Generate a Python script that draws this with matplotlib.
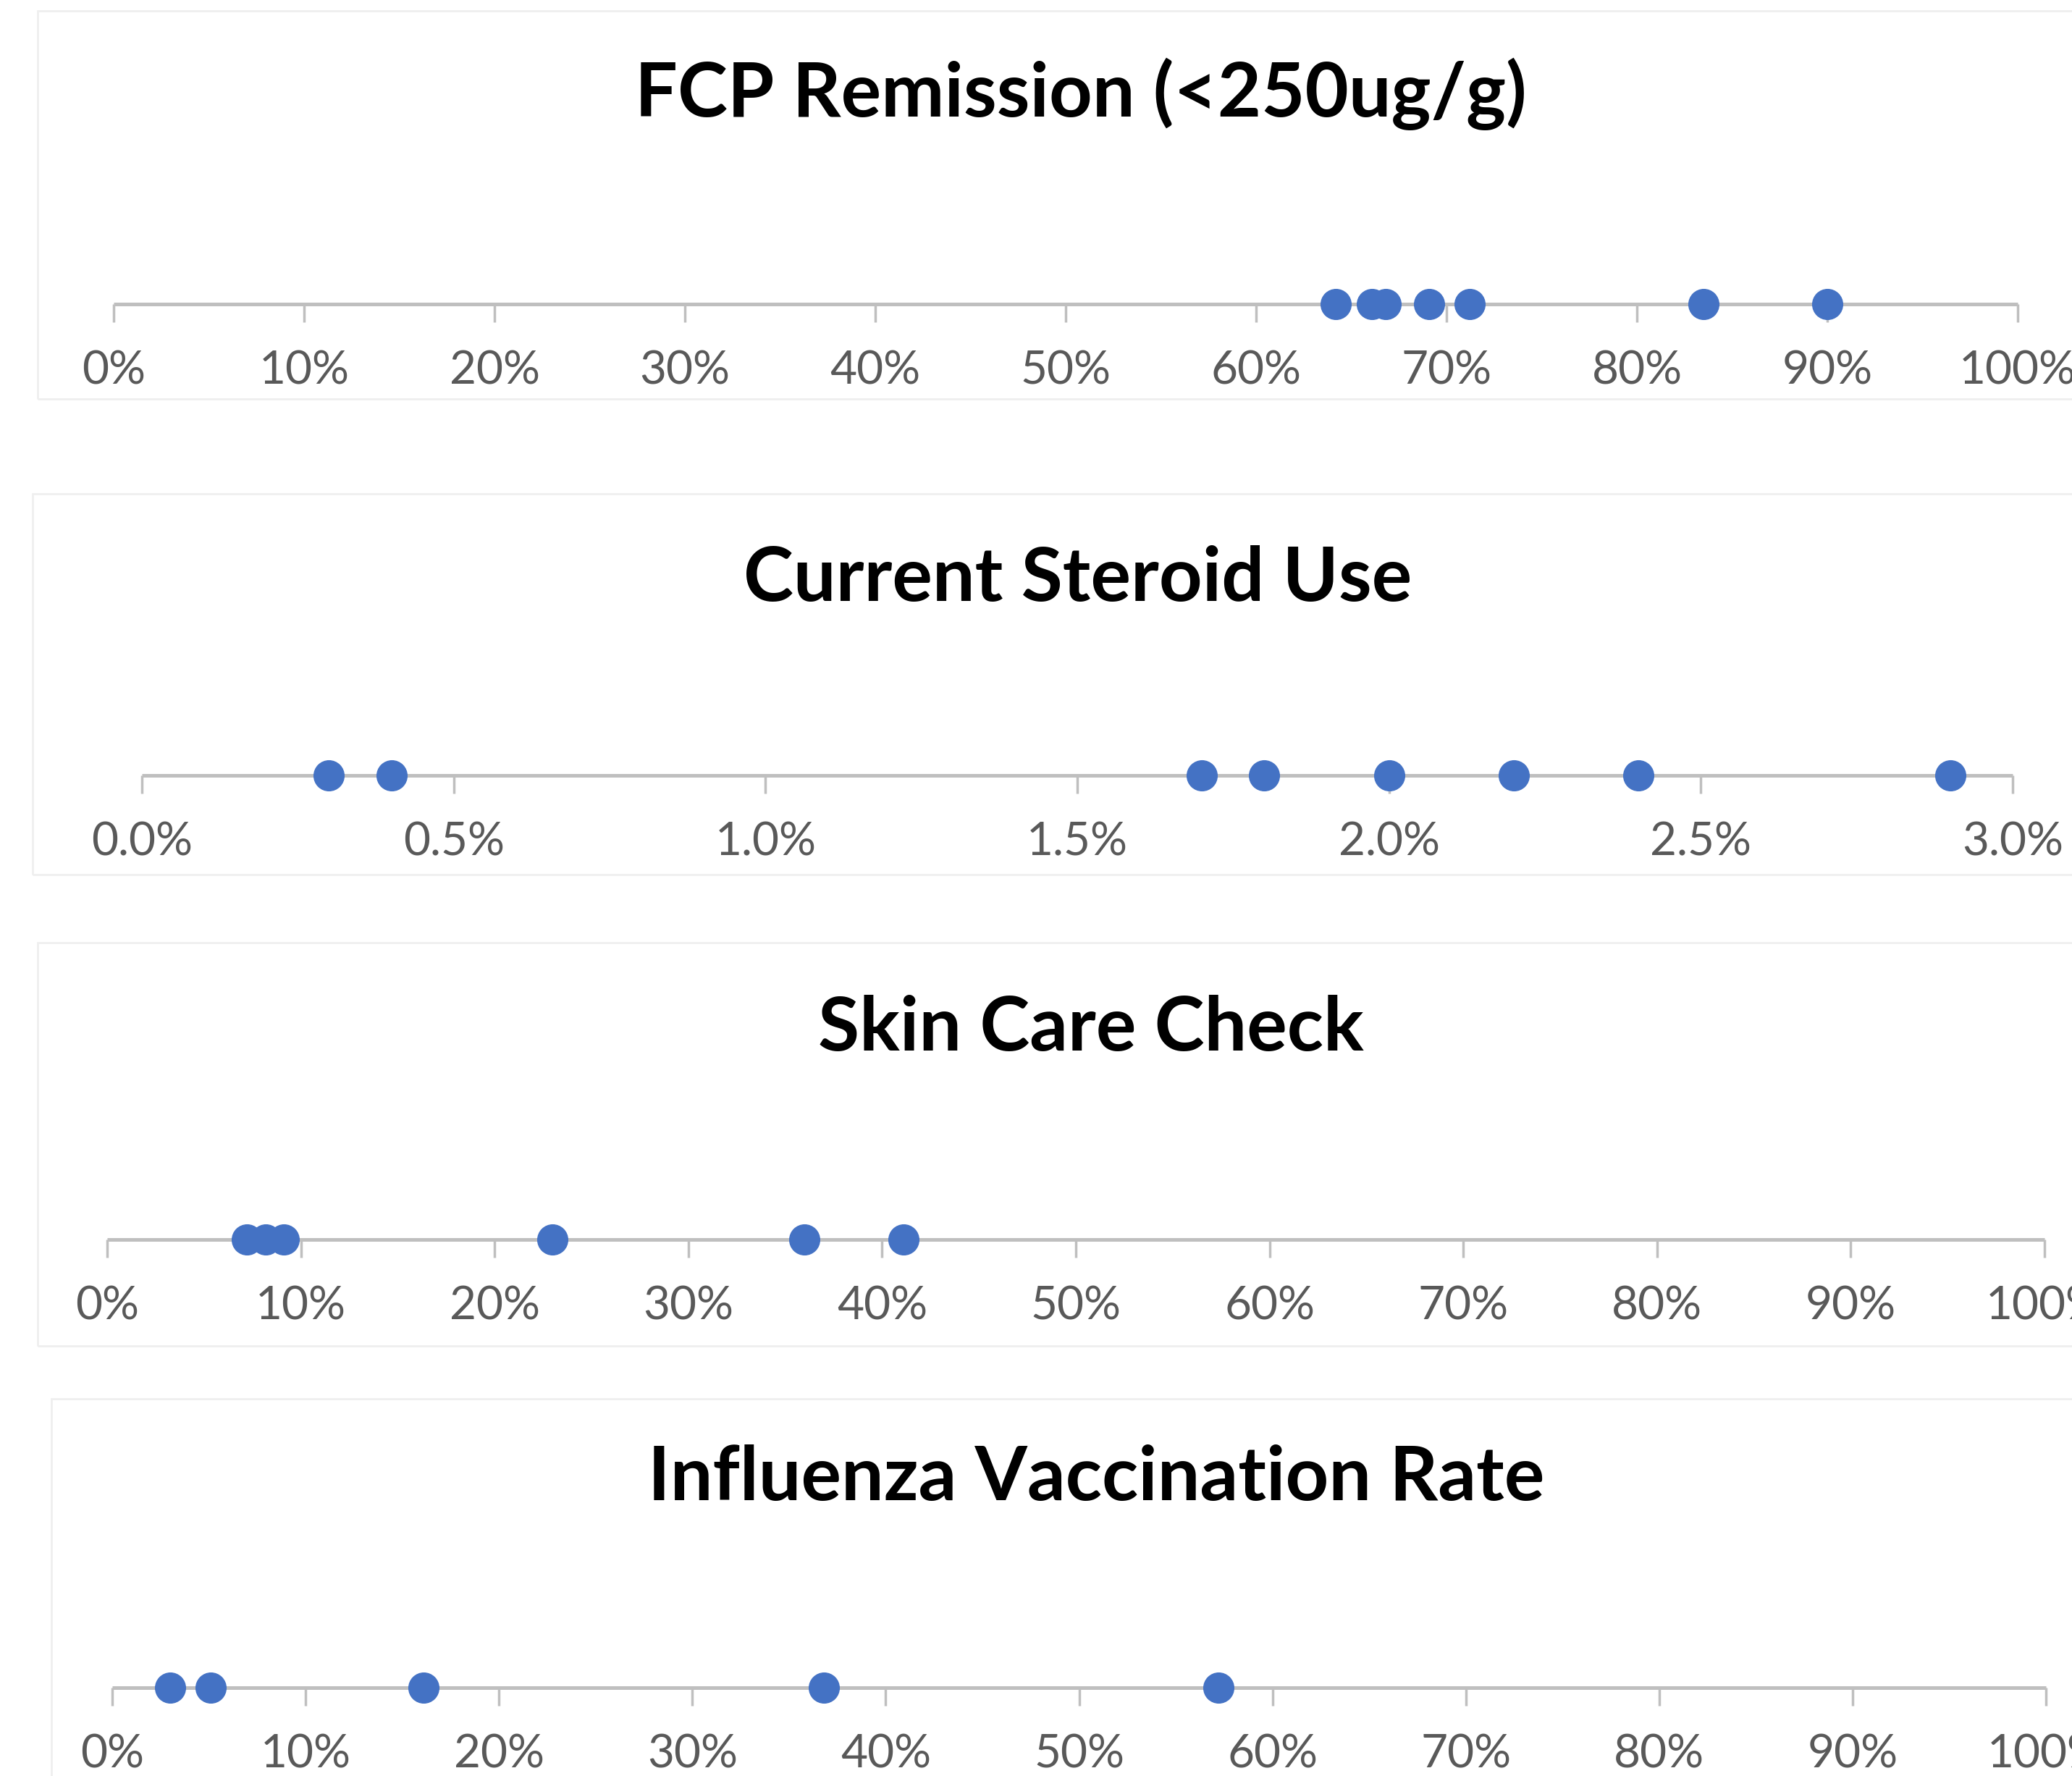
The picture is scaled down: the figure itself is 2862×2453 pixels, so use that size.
import matplotlib.pyplot as plt
from matplotlib.patches import Rectangle
from matplotlib.ticker import MultipleLocator, FuncFormatter

# values (percent)
fcp_remission = [64.2, 66.1, 66.8, 69.1, 71.2, 83.5, 90.0]
steroid_use = [0.3, 0.4, 1.7, 1.8, 2.0, 2.2, 2.4, 2.9]
skin_care_check = [7.2, 8.2, 9.1, 23.0, 36.0, 41.1]
flu_vaccination = [3.0, 5.1, 16.1, 36.8, 57.2]

titles = ['FCP Remission (<250ug/g)', 'Current Steroid Use',
          'Skin Care Check', 'Influenza Vaccination Rate']
axis_max = [100, 3.0, 100, 100]
tick_step = [10, 0.5, 10, 10]
decimals = [0, 1, 0, 0]

# layout in pixels, measured from the top-left of the picture
W, H = 2862, 2453
box_left = [52, 45, 52, 71]
box_top = [15, 682, 1302, 1932]
box_bottom = [551, 1208, 1859, H + 60]
axis_y = [420, 1071, 1712, 2331]
axis_x0 = [157, 196, 148, 155]
axis_x1 = [2787, 2780, 2824, 2826]
title_x = [1493, 1489, 1507, 1514]
title_base = [161, 830, 1451, 2072]

plt.rcParams['font.family'] = ['Lato', 'DejaVu Sans']

fig = plt.figure(figsize=(W / 100, H / 100), dpi=100)
fig.patch.set_facecolor('white')

series = [fcp_remission, steroid_use, skin_care_check, flu_vaccination]
for i, vals in enumerate(series):
    # light frame of each chart (runs off the right edge)
    fig.add_artist(Rectangle((box_left[i] / W, 1 - box_bottom[i] / H),
                             (W + 60 - box_left[i]) / W,
                             (box_bottom[i] - box_top[i]) / H,
                             transform=fig.transFigure, fill=False,
                             ec='#EFEFEF', lw=2))

    fig.text(title_x[i] / W, 1 - title_base[i] / H, titles[i],
             ha='center', va='baseline', fontsize=75, fontweight='bold',
             color='black')

    ax = fig.add_axes([axis_x0[i] / W, 1 - (axis_y[i] + 60) / H,
                       (axis_x1[i] - axis_x0[i]) / W, 120 / H])
    ax.patch.set_visible(False)
    ax.set_xlim(0, axis_max[i])
    ax.set_ylim(-1, 1)
    ax.plot(vals, [0] * len(vals), 'o', ms=30, color='#4472C4',
            clip_on=False, zorder=3)

    for s in ['top', 'left', 'right']:
        ax.spines[s].set_visible(False)
    ax.spines['bottom'].set_position(('data', 0))
    ax.spines['bottom'].set_color('#BFBFBF')
    ax.spines['bottom'].set_linewidth(3.6)
    ax.spines['bottom'].set_capstyle('butt')

    d = decimals[i]
    ax.xaxis.set_major_locator(MultipleLocator(tick_step[i]))
    ax.xaxis.set_major_formatter(FuncFormatter(lambda v, p, d=d: f'{v:.{d}f}%'))
    ax.set_yticks([])
    ax.tick_params(axis='x', direction='out', length=18, width=2.5,
                   color='#BFBFBF', labelsize=46, labelcolor='#595959', pad=28)

fig.savefig('out.png', dpi=100, facecolor='white')
